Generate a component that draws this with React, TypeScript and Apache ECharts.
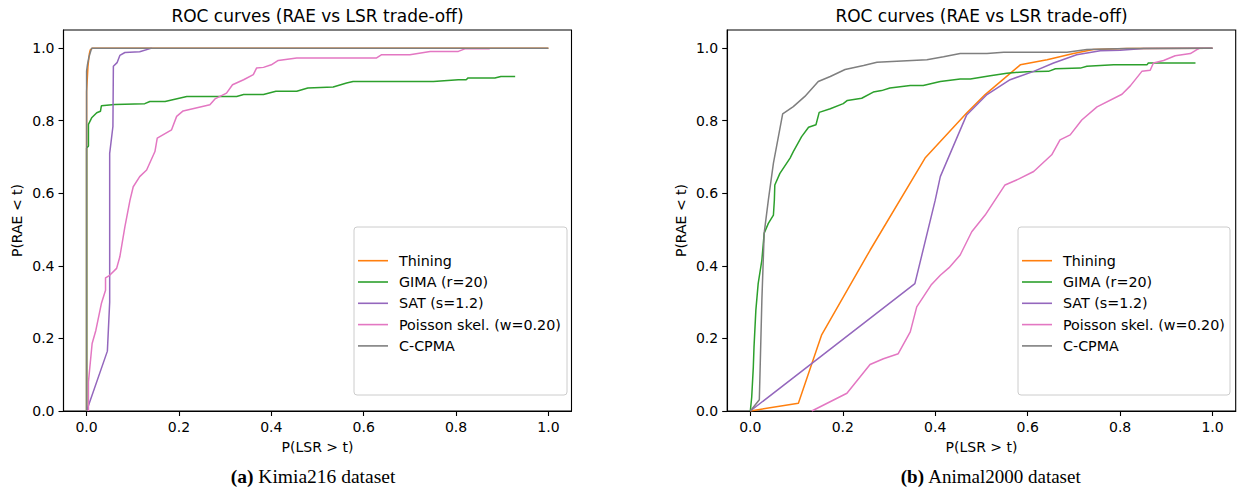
import React, { useEffect, useRef } from "react";
import * as echarts from "echarts";

const seriesNames = ["Thining", "GIMA (r=20)", "SAT (s=1.2)", "Poisson skel. (w=0.20)", "C-CPMA"];
const seriesColors = ["#ff7f0e", "#2ca02c", "#9467bd", "#e377c2", "#7f7f7f"];
const tickValues = [0, 0.2, 0.4, 0.6, 0.8, 1.0];

// Kimia216 dataset (left)
const kimiaThining = [[0, 0], [0, 0.88], [0.003, 0.95], [0.006, 0.985], [0.008, 0.995], [0.013, 1.0], [1.0, 1.0]];
const kimiaGima = [[0, 0], [0, 0.725], [0.004, 0.73], [0.004, 0.79], [0.011, 0.808], [0.022, 0.822], [0.03, 0.826], [0.032, 0.841], [0.061, 0.845], [0.126, 0.847], [0.137, 0.853], [0.17, 0.853], [0.217, 0.867], [0.325, 0.867], [0.34, 0.872], [0.383, 0.872], [0.41, 0.881], [0.455, 0.881], [0.479, 0.89], [0.534, 0.893], [0.563, 0.904], [0.577, 0.908], [0.751, 0.908], [0.805, 0.913], [0.822, 0.913], [0.826, 0.918], [0.884, 0.918], [0.897, 0.922], [0.928, 0.922]];
const kimiaSat = [[0, 0], [0.045, 0.165], [0.05, 0.3], [0.05, 0.71], [0.057, 0.784], [0.058, 0.95], [0.066, 0.96], [0.072, 0.98], [0.083, 0.988], [0.115, 0.99], [0.141, 1.0]];
const kimiaPoisson = [[0.004, 0], [0.004, 0.08], [0.012, 0.186], [0.02, 0.222], [0.032, 0.296], [0.041, 0.333], [0.041, 0.367], [0.05, 0.374], [0.065, 0.393], [0.072, 0.425], [0.083, 0.508], [0.094, 0.581], [0.101, 0.618], [0.115, 0.646], [0.13, 0.664], [0.148, 0.715], [0.153, 0.752], [0.184, 0.775], [0.195, 0.812], [0.209, 0.827], [0.267, 0.844], [0.278, 0.86], [0.303, 0.876], [0.316, 0.899], [0.34, 0.913], [0.361, 0.927], [0.368, 0.945], [0.383, 0.947], [0.40, 0.954], [0.415, 0.966], [0.455, 0.973], [0.628, 0.973], [0.639, 0.982], [0.70, 0.982], [0.744, 0.991], [0.805, 0.991], [0.819, 0.998], [0.873, 0.998]];
const kimiaCcpma = [[0, 0], [0, 0.937], [0.002, 0.955], [0.005, 0.975], [0.011, 1.0], [1.0, 1.0]];

// Animal2000 dataset (right)
const animalThining = [[0, 0], [0.104, 0.0215], [0.154, 0.209], [0.259, 0.443], [0.378, 0.697], [0.468, 0.821], [0.508, 0.872], [0.584, 0.954], [0.642, 0.968], [0.699, 0.985], [0.742, 0.996], [0.815, 0.999], [1.0, 1.0]];
const animalGima = [[0, 0], [0.003, 0.038], [0.0065, 0.121], [0.008, 0.176], [0.012, 0.278], [0.017, 0.351], [0.025, 0.416], [0.03, 0.49], [0.039, 0.517], [0.05, 0.54], [0.052, 0.581], [0.053, 0.623], [0.064, 0.655], [0.086, 0.697], [0.093, 0.715], [0.111, 0.756], [0.126, 0.782], [0.142, 0.789], [0.149, 0.823], [0.173, 0.833], [0.201, 0.847], [0.21, 0.856], [0.241, 0.862], [0.266, 0.879], [0.284, 0.883], [0.302, 0.89], [0.346, 0.897], [0.374, 0.897], [0.411, 0.908], [0.454, 0.915], [0.476, 0.915], [0.519, 0.924], [0.555, 0.931], [0.598, 0.935], [0.645, 0.936], [0.66, 0.943], [0.714, 0.945], [0.728, 0.95], [0.786, 0.954], [0.858, 0.954], [0.861, 0.959], [0.963, 0.959]];
const animalSat = [[0, 0], [0.356, 0.351], [0.40, 0.581], [0.411, 0.646], [0.468, 0.816], [0.512, 0.872], [0.562, 0.913], [0.613, 0.936], [0.656, 0.959], [0.706, 0.982], [0.757, 0.993], [0.80, 0.994], [0.851, 0.999], [0.984, 1.0], [1.0, 1.0]];
const animalPoisson = [[0.133, 0], [0.209, 0.049], [0.259, 0.128], [0.288, 0.144], [0.32, 0.158], [0.346, 0.218], [0.36, 0.287], [0.391, 0.347], [0.411, 0.374], [0.43, 0.395], [0.454, 0.43], [0.479, 0.494], [0.508, 0.54], [0.551, 0.623], [0.58, 0.639], [0.613, 0.66], [0.652, 0.706], [0.67, 0.747], [0.692, 0.761], [0.717, 0.802], [0.75, 0.838], [0.804, 0.873], [0.822, 0.896], [0.847, 0.936], [0.865, 0.939], [0.872, 0.959], [0.894, 0.966], [0.919, 0.979], [0.952, 0.985], [0.966, 0.996], [0.973, 1.0]];
const animalCcpma = [[0, 0], [0.0195, 0.031], [0.025, 0.305], [0.03, 0.49], [0.039, 0.581], [0.05, 0.683], [0.07, 0.819], [0.093, 0.839], [0.118, 0.867], [0.147, 0.908], [0.173, 0.922], [0.205, 0.941], [0.245, 0.952], [0.274, 0.961], [0.382, 0.968], [0.418, 0.976], [0.454, 0.985], [0.512, 0.985], [0.548, 0.989], [0.685, 0.989], [0.728, 0.996], [0.815, 0.999], [1.0, 1.0]];

const kimiaData = [kimiaThining, kimiaGima, kimiaSat, kimiaPoisson, kimiaCcpma];
const animalData = [animalThining, animalGima, animalSat, animalPoisson, animalCcpma];

const plotTitle = "ROC curves (RAE vs LSR trade-off)";
const xName = "P(LSR > t)";
const yName = "P(RAE < t)";

const FONT = "DejaVu Sans";

export default function App() {
  const ref = useRef<HTMLDivElement>(null);
  useEffect(() => {
    if (!ref.current) return;
    const chart = echarts.init(ref.current, undefined, { renderer: "svg" });
    const grids = [
      { left: 63.5, top: 30, width: 508, height: 381 },
      { left: 727.2, top: 30, width: 508.5, height: 381 },
    ];
    const axisCommon = {
      type: "value" as const,
      splitLine: { show: false },
      axisLine: { show: true, onZero: false, lineStyle: { color: "#000", width: 1.1 } },
      axisTick: { show: true, length: 5, customValues: tickValues, lineStyle: { color: "#000", width: 1.1 } },
      axisLabel: {
        customValues: tickValues,
        color: "#000",
        fontSize: 14,
        fontFamily: FONT,
        margin: 9,
        formatter: (v: number) => v.toFixed(1),
      },
    };
    const series: any[] = [];
    [kimiaData, animalData].forEach((set, gi) => {
      set.forEach((d, i) => {
        series.push({
          type: "line",
          name: seriesNames[i],
          xAxisIndex: gi,
          yAxisIndex: gi,
          data: d,
          symbol: "none",
          color: seriesColors[i],
          lineStyle: { width: 1.5, color: seriesColors[i] },
          emphasis: { disabled: true },
        });
      });
    });
    const titleCenters = [317.5, 981.5];
    const graphics: any[] = [];
    titleCenters.forEach((cx, gi) => {
      graphics.push({
        type: "text",
        x: cx,
        y: 16,
        style: { text: plotTitle, fill: "#000", font: `17px "${FONT}"`, align: "center", verticalAlign: "middle" },
      });
      graphics.push({
        type: "text",
        x: cx,
        y: 447,
        style: { text: xName, fill: "#000", font: `14px "${FONT}"`, align: "center", verticalAlign: "middle" },
      });
      graphics.push({
        type: "text",
        x: gi === 0 ? 17 : 681,
        y: 220.5,
        rotation: Math.PI / 2,
        style: { text: yName, fill: "#000", font: `14px "${FONT}"`, align: "center", verticalAlign: "middle" },
      });
    });
    graphics.push({
      type: "rect",
      z: 3,
      shape: { x: 354, y: 227, width: 213, height: 168, r: 3 },
      style: { fill: "rgba(255,255,255,0.8)", stroke: "#cccccc", lineWidth: 1 },
    });
    graphics.push({
      type: "rect",
      z: 3,
      shape: { x: 1018, y: 227, width: 212, height: 168, r: 3 },
      style: { fill: "rgba(255,255,255,0.8)", stroke: "#cccccc", lineWidth: 1 },
    });
    graphics.push({
      type: "text",
      x: 313,
      y: 476,
      style: {
        text: "{b|(a)} Kimia216 dataset",
        fill: "#000",
        fontFamily: "Liberation Serif",
        fontSize: 19.5,
        align: "center",
        verticalAlign: "middle",
        rich: { b: { fontWeight: "bold", fontFamily: "Liberation Serif", fontSize: 19.5, fill: "#000" } },
      },
    });
    graphics.push({
      type: "text",
      x: 991,
      y: 476,
      style: {
        text: "{b|(b)} Animal2000 dataset",
        fill: "#000",
        fontFamily: "Liberation Serif",
        fontSize: 19,
        align: "center",
        verticalAlign: "middle",
        rich: { b: { fontWeight: "bold", fontFamily: "Liberation Serif", fontSize: 19, fill: "#000" } },
      },
    });
    const legendCommon = {
      orient: "vertical" as const,
      data: seriesNames,
      icon: "rect",
      itemWidth: 30,
      itemHeight: 1.6,
      itemGap: 5.3,
      selectedMode: false,
      padding: 0,
      z: 5,
      textStyle: { color: "#000", fontSize: 14.3, fontFamily: FONT, lineHeight: 16, padding: [0, 0, 0, 6] },
    };
    chart.setOption({
      animation: false,
      backgroundColor: "#fff",
      grid: grids.map((g) => ({ ...g, show: true, borderColor: "#000", borderWidth: 1.1, containLabel: false })),
      xAxis: [0, 1].map((gi) => ({ ...axisCommon, gridIndex: gi, min: -0.05, max: 1.05 })),
      yAxis: [0, 1].map((gi) => ({ ...axisCommon, gridIndex: gi, min: 0, max: 1.05 })),
      legend: [
        { ...legendCommon, left: 358, top: 252.7 },
        { ...legendCommon, left: 1022, top: 252.7 },
      ],
      graphic: graphics,
      series,
    });
    return () => chart.dispose();
  }, []);
  return <div ref={ref} style={{ position: "fixed", left: 0, top: 0, width: 1239, height: 487 }} />;
}
